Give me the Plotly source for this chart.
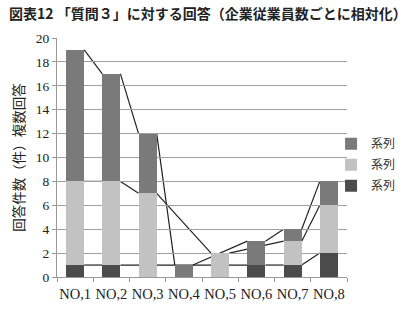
import plotly.graph_objects as go

categories = ["NO,1", "NO,2", "NO,3", "NO,4", "NO,5", "NO,6", "NO,7", "NO,8"]
series_names = ["系列", "系列", "系列"]
dark_vals = [1, 1, None, None, None, 1, 1, 2]
light_vals = [7, 7, 7, None, 2, None, 2, 4]
mid_vals = [11, 9, 5, 1, None, 2, 1, 2]
colors = ["#4b4b4b", "#c2c2c2", "#7a7a7a"]
y_ticks = [0, 2, 4, 6, 8, 10, 12, 14, 16, 18, 20]

stack = [dark_vals, light_vals, mid_vals]
fig = go.Figure()
for name, vals, col, grp in zip(series_names, stack, colors, ["c", "b", "a"]):
    fig.add_trace(go.Bar(x=categories, y=vals, name=name, marker=dict(color=col, line=dict(width=0)),
                         legendgroup=grp, legendrank={"a": 1, "b": 2, "c": 3}[grp]))

# series lines (Excel-style): connect top of each stacked segment between non-blank bars
half = 0.25
base = [0] * len(categories)
shapes = []
for vals in stack:
    tops = []
    for i, v in enumerate(vals):
        if v is None:
            tops.append(None)
        else:
            base[i] += v
            tops.append(base[i])
    idx = [i for i, t in enumerate(tops) if t is not None]
    for a, b in zip(idx[:-1], idx[1:]):
        shapes.append(dict(type="line", xref="x", yref="y", layer="below",
                           x0=a + half, y0=tops[a], x1=b - half, y1=tops[b],
                           line=dict(color="#222222", width=1.2)))

fig.update_layout(
    width=407, height=315,
    margin=dict(l=57, r=60, t=38, b=38, autoexpand=False),
    paper_bgcolor="white", plot_bgcolor="white",
    barmode="stack", bargap=0.5,
    shapes=shapes,
    title=dict(text="<b>図表12 「質問３」に対する回答（企業従業員数ごとに相対化）</b>",
               x=9 / 407, xanchor="left", y=1 - 14 / 315, yanchor="middle",
               font=dict(family="Noto Sans CJK JP", size=14, color="#222222")),
    legend=dict(x=0.945, xanchor="left", y=0.47, yanchor="middle",
                traceorder="grouped", tracegroupgap=2,
                font=dict(family="Noto Sans CJK JP", size=12, color="#333333"),
                itemwidth=30, bgcolor="rgba(0,0,0,0)"),
    xaxis=dict(type="category", showgrid=False, showline=True, linecolor="#999999", linewidth=1,
               ticks="outside", tickson="boundaries", ticklen=4, tickcolor="#999999",
               tickangle=0, ticklabelstandoff=4,
               tickfont=dict(family="Liberation Serif", size=14.5, color="#222222")),
    yaxis=dict(range=[0, 20], tickvals=y_ticks, showgrid=True, gridcolor="#a0a0a0", gridwidth=1,
               showline=True, linecolor="#999999", linewidth=1, ticks="outside", ticklen=4,
               tickcolor="#999999", zeroline=False,
               tickfont=dict(family="Liberation Serif", size=13.5, color="#222222"),
               title=dict(text="回答件数（件）複数回答", standoff=8,
                          font=dict(family="Noto Sans CJK JP", size=13.5, color="#222222"))),
)

fig.write_html("out.html")
